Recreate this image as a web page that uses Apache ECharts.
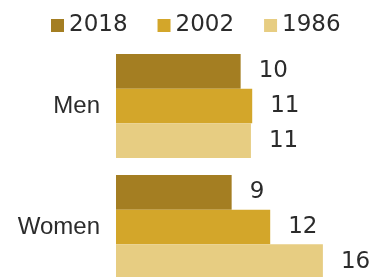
<!DOCTYPE html>
<html>
<head>
<meta charset="utf-8">
<script src="https://cdn.jsdelivr.net/npm/echarts@6/dist/echarts.min.js"></script>
<style>
  html, body { margin: 0; padding: 0; background: #fff; }
  #chart { width: 373px; height: 277px; }
</style>
</head>
<body>
<div id="chart"></div>
<script>
// 数据
var categories = ['Men', 'Women'];
var years = ['2018', '2002', '1986'];
var values2018 = [9.7, 9.0];
var values2002 = [10.6, 12.0];
var values1986 = [10.5, 16.1];
var colors = ['#a47e22', '#d3a62a', '#e7cd82'];

var chart = echarts.init(document.getElementById('chart'));

function makeSeries(name, data, color) {
  return {
    name: name,
    type: 'bar',
    data: data,
    barGap: '0%',
    barCategoryGap: '14%',
    itemStyle: { color: color },
    label: {
      show: true,
      position: 'right',
      distance: 18,
      color: '#2b2b2b',
      fontFamily: 'DejaVu Sans',
      fontSize: 23,
      formatter: function (p) { return Math.round(p.value); }
    },
    silent: true
  };
}

chart.setOption({
  animation: false,
  legend: {
    top: 9,
    left: 46,
    itemWidth: 13,
    itemHeight: 13,
    itemGap: 30,
    icon: 'rect',
    textStyle: {
      color: '#2b2b2b',
      fontFamily: 'DejaVu Sans',
      fontSize: 23
    },
    data: years
  },
  // boundaryGap 关掉，让两个类目落在网格上下边
  grid: {
    left: 116,
    top: 106,
    width: 262,
    height: 121,
    containLabel: false
  },
  xAxis: {
    type: 'value',
    min: 0,
    max: 20,
    show: false
  },
  yAxis: {
    type: 'category',
    data: categories,
    inverse: true,
    boundaryGap: false,
    axisLine: { show: false },
    axisTick: { show: false },
    splitLine: { show: false },
    axisLabel: {
      margin: 16,
      color: '#2b2b2b',
      fontFamily: 'Liberation Sans',
      fontSize: 24,
      padding: [0, 0, 8, 0]
    }
  },
  series: [
    makeSeries(years[0], values2018, colors[0]),
    makeSeries(years[1], values2002, colors[1]),
    makeSeries(years[2], values1986, colors[2])
  ]
});
</script>
</body>
</html>
